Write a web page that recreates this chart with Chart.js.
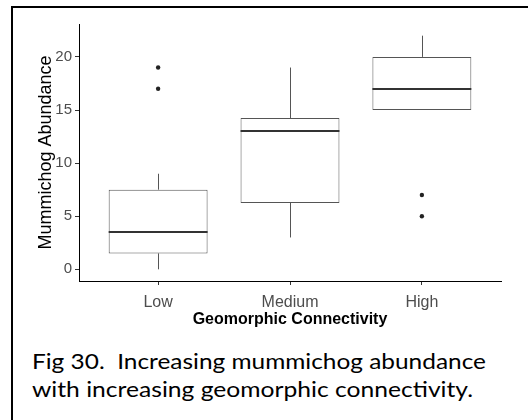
<!DOCTYPE html>
<html>
<head>
<meta charset="utf-8">
<script src="https://cdn.jsdelivr.net/npm/chart.js@4/dist/chart.umd.min.js"></script>
<style>
  html, body { margin: 0; padding: 0; background: #fff; width: 528px; height: 420px; overflow: hidden; }
  #frame { position: absolute; left: 11px; top: 6px; width: 700px; height: 600px;
           border-left: 2px solid #000; border-top: 2px solid #000; }
  #wrap { position: absolute; left: 0; top: 0; width: 528px; height: 340px; }
  .cap { position: absolute; left: 32px; font-family: Lato, "Open Sans", sans-serif; font-size: 20.5px;
         line-height: 28px; color: #000; white-space: pre; transform-origin: 0 50%; }
</style>
</head>
<body>
<div id="frame"></div>
<div id="wrap"><canvas id="chart" width="528" height="340"></canvas></div>
<div class="cap" id="cap1" style="top:347px">Fig 30.  Increasing mummichog abundance</div>
<div class="cap" id="cap2" style="top:375px">with increasing geomorphic connectivity.</div>
<script>
// Box-plot summary per connectivity class
const categories = ['Low', 'Medium', 'High'];
const lowerWhisker = [0, 3, 15];
const lowerQuartile = [1.5, 6.25, 15];
const medians = [3.5, 13, 17];
const upperQuartile = [7.5, 14.25, 20];
const upperWhisker = [9, 19, 22];
const outliers = [[17, 19], [], [5, 7]];
const yTicks = [0, 5, 10, 15, 20];

const boxData = categories.map((c, i) => ({ x: i + 1, y: [lowerQuartile[i], upperQuartile[i]] }));
const outlierData = outliers.flatMap((vals, i) => vals.map(v => ({ x: i + 1, y: v })));

// Whiskers go under the boxes, medians on top of them
const boxLines = {
  id: 'boxLines',
  beforeDatasetsDraw(chart) {
    const { ctx, scales: { x, y } } = chart;
    ctx.save();
    ctx.strokeStyle = '#555';
    ctx.lineWidth = 1;
    categories.forEach((c, i) => {
      const px = Math.round(x.getPixelForValue(i + 1)) + 0.5;
      ctx.beginPath();
      ctx.moveTo(px, y.getPixelForValue(upperWhisker[i]));
      ctx.lineTo(px, y.getPixelForValue(upperQuartile[i]));
      ctx.moveTo(px, y.getPixelForValue(lowerQuartile[i]));
      ctx.lineTo(px, y.getPixelForValue(lowerWhisker[i]));
      ctx.stroke();
    });
    ctx.restore();
  },
  afterDatasetsDraw(chart) {
    const { ctx, scales: { y } } = chart;
    const meta = chart.getDatasetMeta(0);
    ctx.save();
    ctx.strokeStyle = '#333';
    ctx.lineWidth = 2;
    meta.data.forEach((bar, i) => {
      const { x: cx, width } = bar.getProps(['x', 'width'], true);
      const py = Math.round(y.getPixelForValue(medians[i]));
      ctx.beginPath();
      ctx.moveTo(cx - width / 2, py);
      ctx.lineTo(cx + width / 2, py);
      ctx.stroke();
    });
    ctx.restore();
  }
};

const tickFont = { family: '"Liberation Sans", Arial, sans-serif', size: 16 };

new Chart(document.getElementById('chart'), {
  type: 'bar',
  data: {
    datasets: [
      {
        type: 'bar',
        data: boxData,
        backgroundColor: '#ffffff',
        borderColor: '#555',
        borderWidth: 1,
        borderSkipped: false,
        categoryPercentage: 1,
        barPercentage: 0.75
      },
      {
        type: 'scatter',
        data: outlierData,
        pointRadius: 2.2,
        pointBackgroundColor: '#222',
        pointBorderColor: '#222',
        pointBorderWidth: 0
      }
    ]
  },
  options: {
    responsive: false,
    animation: false,
    events: [],
    layout: { padding: { top: 24, right: 27, left: 0, bottom: 0 } },
    plugins: { legend: { display: false }, tooltip: { enabled: false } },
    scales: {
      x: {
        type: 'linear',
        min: 0.4,
        max: 3.6,
        offset: false,
        afterBuildTicks: s => { s.ticks = categories.map((c, i) => ({ value: i + 1 })); },
        afterFit: s => { s.height = 59; },
        ticks: {
          callback: (v, i) => categories[i],
          color: '#4d4d4d',
          font: tickFont,
          padding: 8,
          autoSkip: false,
          maxRotation: 0
        },
        grid: { display: true, offset: false, drawOnChartArea: false, drawTicks: true, tickLength: 4, tickColor: '#333' },
        border: { display: true, color: '#000', width: 1 },
        title: {
          display: true,
          text: 'Geomorphic Connectivity',
          color: '#000',
          font: { family: '"Liberation Sans", Arial, sans-serif', size: 16, weight: 'bold' },
          padding: { top: 0, bottom: 11 }
        }
      },
      y: {
        min: -1.1,
        max: 23.1,
        afterBuildTicks: s => { s.ticks = yTicks.map(v => ({ value: v })); },
        afterFit: s => { s.width = 79; },
        ticks: {
          color: '#4d4d4d',
          font: { family: '"Liberation Sans", Arial, sans-serif', size: 15 },
          padding: 3
        },
        grid: { display: true, drawOnChartArea: false, drawTicks: true, tickLength: 4, tickColor: '#333' },
        border: { display: true, color: '#000', width: 1 },
        title: {
          display: true,
          text: 'Mummichog Abundance',
          color: '#000',
          font: { family: '"Liberation Sans", Arial, sans-serif', size: 18 },
          padding: { top: 35, bottom: 0 }
        }
      }
    }
  },
  plugins: [boxLines]
});

// Fit each caption line to its printed width
(function () {
  const c = document.createElement('canvas').getContext('2d');
  const targets = { cap1: 454, cap2: 441 };
  Object.keys(targets).forEach(id => {
    const el = document.getElementById(id);
    const cs = getComputedStyle(el);
    c.font = cs.fontSize + ' ' + cs.fontFamily;
    const w = c.measureText(el.textContent).width;
    el.style.transform = 'scaleX(' + (targets[id] / w) + ')';
  });
})();
</script>
</body>
</html>
